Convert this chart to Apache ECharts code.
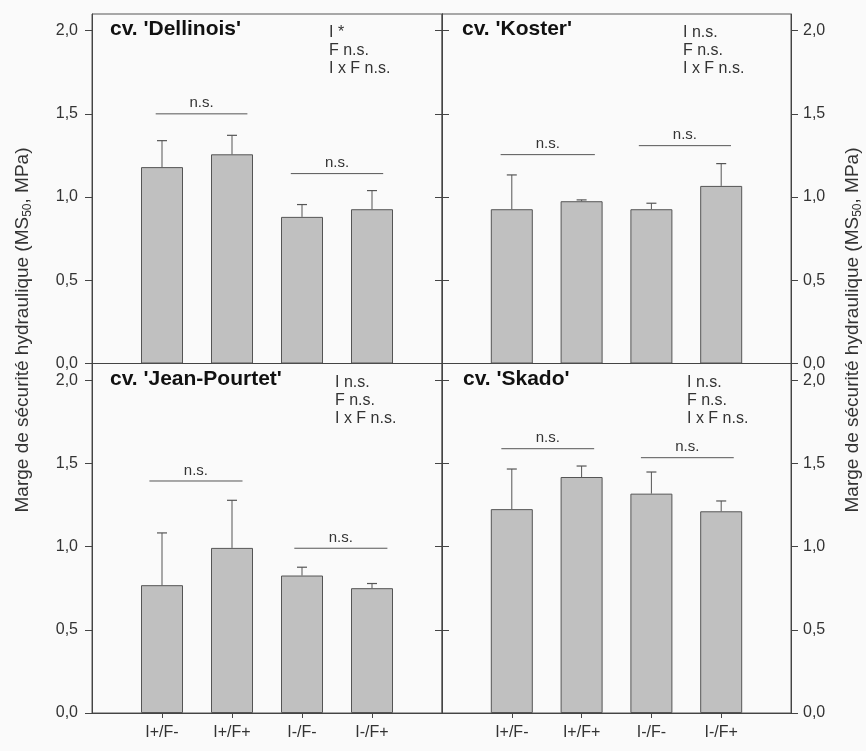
<!DOCTYPE html>
<html>
<head>
<meta charset="utf-8">
<script src="https://cdn.jsdelivr.net/npm/echarts@6/dist/echarts.min.js"></script>
<style>
html,body{margin:0;padding:0;background:#fafafa;overflow:hidden;}
#chart{width:866px;height:751px;}
</style>
</head>
<body>
<div id="chart"></div>
<script>
// ---- data ----
const categories = ['I+/F-', 'I+/F+', 'I-/F-', 'I-/F+'];
const panelTitles = ["cv. 'Dellinois'", "cv. 'Koster'", "cv. 'Jean-Pourtet'", "cv. 'Skado'"];
const statsDellinois = ['I *', 'F n.s.', 'I x F n.s.'];
const statsKoster = ['I n.s.', 'F n.s.', 'I x F n.s.'];
const statsJeanPourtet = ['I n.s.', 'F n.s.', 'I x F n.s.'];
const statsSkado = ['I n.s.', 'F n.s.', 'I x F n.s.'];

const meanDellinois = [1.18, 1.257, 0.881, 0.927];
const errDellinois  = [0.159, 0.114, 0.074, 0.112];
const meanKoster = [0.927, 0.975, 0.927, 1.067];
const errKoster  = [0.206, 0.008, 0.036, 0.134];
const meanJeanPourtet = [0.768, 0.992, 0.826, 0.750];
const errJeanPourtet  = [0.314, 0.286, 0.050, 0.028];
const meanSkado = [1.225, 1.418, 1.318, 1.212];
const errSkado  = [0.241, 0.066, 0.130, 0.062];

// significance brackets: [from category position, to category position, height]
const sigDellinois = [[0.91, 2.22, 1.500], [2.84, 4.16, 1.141]];
const sigKoster = [[0.84, 2.19, 1.255], [2.82, 4.14, 1.309]];
const sigJeanPourtet = [[0.82, 2.15, 1.394], [2.89, 4.22, 0.990]];
const sigSkado = [[0.85, 2.18, 1.588], [2.85, 4.18, 1.534]];
const sigLabel = 'n.s.';

const yTicks = [0, 0.5, 1.0, 1.5, 2.0];
const yMin = 0, yMax = 2.1;
const yTitleMain = 'Marge de sécurité hydraulique (MS';
const yTitleSub = '50';
const yTitleEnd = ', MPa)';

// ---- layout ----
const FONT = "'Liberation Sans', Arial, sans-serif";
const X0 = 92, XM = 442, X1 = 791, Y0 = 14, YM = 363.5, Y1 = 713;
const panels = [
  {mean: meanDellinois, err: errDellinois, sig: sigDellinois, stats: statsDellinois, left: X0, top: Y0, w: XM - X0, h: YM - Y0, right: false, bottom: false, titleDx: 18, statDx: 237},
  {mean: meanKoster, err: errKoster, sig: sigKoster, stats: statsKoster, left: XM, top: Y0, w: X1 - XM, h: YM - Y0, right: true, bottom: false, titleDx: 20, statDx: 241},
  {mean: meanJeanPourtet, err: errJeanPourtet, sig: sigJeanPourtet, stats: statsJeanPourtet, left: X0, top: YM, w: XM - X0, h: Y1 - YM, right: false, bottom: true, titleDx: 18, statDx: 243},
  {mean: meanSkado, err: errSkado, sig: sigSkado, stats: statsSkado, left: XM, top: YM, w: X1 - XM, h: Y1 - YM, right: true, bottom: true, titleDx: 21, statDx: 245}
];
panels.forEach((p, i) => p.title = panelTitles[i]);

const xCats = [''].concat(categories, ['']);
const showCat = (idx) => idx >= 1 && idx <= categories.length;
const fmtY = (v) => {
  const ok = yTicks.some(t => Math.abs(t - v) < 1e-6);
  return ok ? v.toFixed(1).replace('.', ',') : '';
};

const grid = [], xAxis = [], yAxis = [], series = [], graphic = [];
panels.forEach((p, i) => {
  grid.push({left: p.left, top: p.top, width: p.w, height: p.h, show: true, borderColor: '#555', borderWidth: 1, backgroundColor: 'transparent'});
  xAxis.push({
    type: 'category', gridIndex: i, data: xCats, boundaryGap: false,
    axisLine: {show: true, lineStyle: {color: '#444', width: 1}},
    axisTick: {show: p.bottom, interval: showCat, length: 5, lineStyle: {color: '#444'}},
    axisLabel: {show: p.bottom, interval: showCat, margin: 12, fontSize: 16, color: '#333', fontFamily: FONT},
    splitLine: {show: false}
  });
  const yCommon = {type: 'value', gridIndex: i, min: yMin, max: yMax, interval: 0.5, splitLine: {show: false},
    axisLine: {show: true, lineStyle: {color: '#444', width: 1}}};
  yAxis.push(Object.assign({}, yCommon, {
    position: 'left',
    axisTick: {show: true, inside: p.right, length: 7, customValues: yTicks, lineStyle: {color: '#444'}},
    axisLabel: {show: !p.right, margin: 14, fontSize: 16, color: '#333', fontFamily: FONT, formatter: fmtY, customValues: yTicks}
  }));
  yAxis.push(Object.assign({}, yCommon, {
    position: 'right',
    axisTick: {show: true, inside: !p.right, length: 7, customValues: yTicks, lineStyle: {color: '#444'}},
    axisLabel: {show: p.right, margin: 12, fontSize: 16, color: '#333', fontFamily: FONT, formatter: fmtY, customValues: yTicks}
  }));
  series.push({
    type: 'bar', xAxisIndex: i, yAxisIndex: 2 * i, barWidth: 42,
    data: ['-'].concat(p.mean, ['-']),
    itemStyle: {color: '#c0c0c0', borderColor: '#555', borderWidth: 1},
    silent: true, z: 2
  });
  series.push({
    type: 'custom', xAxisIndex: i, yAxisIndex: 2 * i, z: 3, silent: true,
    encode: {x: 0, y: 1},
    data: p.mean.map((m, k) => [k + 1, m, p.err[k]]),
    renderItem: function (params, api) {
      const x = api.value(0), m = api.value(1), e = api.value(2);
      const a = api.coord([x, m]), b = api.coord([x, m + e]);
      const cap = 5;
      return {type: 'group', children: [
        {type: 'line', shape: {x1: a[0], y1: a[1], x2: b[0], y2: b[1]}, style: {stroke: '#555', lineWidth: 1}},
        {type: 'line', shape: {x1: b[0] - cap, y1: b[1], x2: b[0] + cap, y2: b[1]}, style: {stroke: '#555', lineWidth: 1.2}}
      ]};
    }
  });
  series.push({
    type: 'custom', xAxisIndex: i, yAxisIndex: 2 * i, z: 3, silent: true, clip: false,
    encode: {x: 0, y: 2},
    data: p.sig.map(s => [s[0], s[1], s[2]]),
    renderItem: function (params, api) {
      const f = api.value(0), t = api.value(1), y = api.value(2);
      const c1 = api.coord([1, y]), c2 = api.coord([2, y]);
      const step = c2[0] - c1[0];
      const xa = c1[0] + (f - 1) * step, xb = c1[0] + (t - 1) * step;
      return {type: 'group', children: [
        {type: 'line', shape: {x1: xa, y1: c1[1], x2: xb, y2: c1[1]}, style: {stroke: '#555', lineWidth: 1}},
        {type: 'text', x: (xa + xb) / 2, y: c1[1] - 3, style: {text: sigLabel, fill: '#333', font: '15px ' + FONT, textAlign: 'center', textVerticalAlign: 'bottom'}}
      ]};
    }
  });
  graphic.push({type: 'text', left: p.left + p.titleDx, top: p.top + 5, z: 10,
    style: {text: p.title, fill: '#111', font: 'bold 21px ' + FONT}});
  graphic.push({type: 'text', left: p.left + p.statDx, top: p.top + 10, z: 10,
    style: {text: p.stats.join('\n'), fill: '#333', font: '16px ' + FONT, lineHeight: 18}});
});

const yTitleRich = {
  a: {fontSize: 19, fontFamily: FONT, fill: '#333', color: '#333'},
  s: {fontSize: 12, fontFamily: FONT, fill: '#333', color: '#333', padding: [9, 0, 0, 0]}
};
const yTitleText = '{a|' + yTitleMain + '}{s|' + yTitleSub + '}{a|' + yTitleEnd + '}';
[23, 853].forEach(cx => {
  graphic.push({type: 'text', x: cx, y: 330, rotation: Math.PI / 2, z: 10,
    style: {text: yTitleText, rich: yTitleRich, textAlign: 'center', textVerticalAlign: 'middle', fill: '#333'}});
});

const chart = echarts.init(document.getElementById('chart'), null, {renderer: 'canvas'});
chart.setOption({
  backgroundColor: '#fafafa',
  animation: false,
  grid, xAxis, yAxis, series, graphic
});
</script>
</body>
</html>
